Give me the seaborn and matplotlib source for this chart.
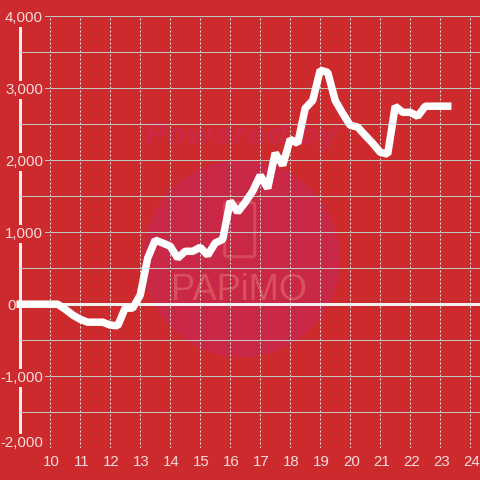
import matplotlib
matplotlib.use("Agg")
import matplotlib.pyplot as plt
from matplotlib.patches import Ellipse, FancyBboxPatch
from matplotlib.ticker import FixedLocator
from matplotlib.transforms import ScaledTranslation
import pandas as pd
import seaborn as sns

hours = [9.0, 9.25, 9.5, 9.75,
         10.0, 10.25, 10.5, 10.75, 11.0, 11.25, 11.5, 11.75,
         12.0, 12.25, 12.5, 12.75, 13.0, 13.25, 13.5, 13.75,
         14.0, 14.25, 14.5, 14.75, 15.0, 15.25, 15.5, 15.75,
         16.0, 16.25, 16.5, 16.75, 17.0, 17.25, 17.5, 17.75,
         18.0, 18.25, 18.5, 18.75, 19.0, 19.25, 19.5, 19.75,
         20.0, 20.25, 20.5, 20.75, 21.0, 21.25, 21.5, 21.75,
         22.0, 22.25, 22.5, 22.75, 23.0, 23.25]
values = [0, 0, 0, 0,
          0, 0, -70, -150, -210, -250, -250, -250,
          -290, -300, -55, -55, 125, 640, 890, 850,
          805, 640, 735, 735, 790, 680, 850, 900,
          1430, 1280, 1415, 1570, 1790, 1610, 2100, 1930,
          2290, 2235, 2720, 2830, 3250, 3220, 2830, 2650,
          2485, 2460, 2345, 2235, 2110, 2085, 2750, 2665,
          2665, 2610, 2750, 2750, 2750, 2750]
x_ticks = [10, 11, 12, 13, 14, 15, 16, 17, 18, 19, 20, 21, 22, 23, 24]
y_ticks = [-2000, -1000, 0, 1000, 2000, 3000, 4000]
y_minor = [-1500, -500, 500, 1500, 2500, 3500]
y_labels = ["-2,000", "-1,000", "0", "1,000", "2,000", "3,000", "4,000"]

BG = "#cc2a2d"
GRID = "#bfc9c2"
VGRID = "#dfe8e0"
TXT = "#f6dcdc"
WHITE = "#f0f0f0"
PX = 1 / 100
PT = 0.72

sns.set_theme(style="white")
plt.rcParams["font.family"] = ["Liberation Sans", "DejaVu Sans"]

fig = plt.figure(figsize=(4.8, 4.8), dpi=100, facecolor=BG)
ax = fig.add_axes([20.2 / 480, 31.8 / 480, (480 - 20.2) / 480, 432 / 480], facecolor=BG)

df = pd.DataFrame({"hour": hours, "value": values})
ax.axhline(0, color=WHITE, lw=3 * PT, zorder=2.9)
sns.lineplot(data=df, x="hour", y="value", ax=ax, color="white", lw=7.5 * PT,
             solid_capstyle="projecting", solid_joinstyle="bevel", zorder=3, clip_on=False)
ax.set_xlabel("")
ax.set_ylabel("")

ax.set_xlim(9.0, 9 + (480 - 20.2) / 30)
ax.set_ylim(-2000, 4000)


def px(x, y):
    return 10 + (x - 50.5) / 30, (304.5 - y) * 1000 / 72


# watermark
cx, cy = px(241.5, 259)
ax.add_patch(Ellipse((cx, cy), 197 / 30, 197 * 1000 / 72, fc="#c92846", ec="none", zorder=0.5))
ax.text(*px(242, 136), "Powered by", family="DejaVu Sans", weight="bold", style="oblique",
        fontsize=21, color="#cb2944", ha="center", va="center", zorder=0.6)
x0, y0 = px(225, 257)
x1, y1 = px(255, 203)
ax.add_patch(FancyBboxPatch((x0, y0), x1 - x0, y1 - y0,
                            boxstyle="round,pad=0,rounding_size=0.1", mutation_aspect=2400 / 6 * 0.55,
                            fc="none", ec="#d64a5c", lw=3 * PT, zorder=0.6))
ax.text(*px(239.5, 291), "PAPiMO", family="Liberation Sans",
        fontsize=26, color="#d9505f", ha="center", va="center", zorder=0.6)

# axes
for s in ["top", "right", "bottom"]:
    ax.spines[s].set_visible(False)
ax.spines["left"].set_color(WHITE)
ax.spines["left"].set_linewidth(3 * PT)
ax.set_axisbelow(False)

ax.xaxis.set_major_locator(FixedLocator(x_ticks))
ax.yaxis.set_major_locator(FixedLocator(y_ticks))
ax.yaxis.set_minor_locator(FixedLocator(y_minor))
ax.set_yticklabels(y_labels)
ax.grid(True, axis="y", which="both", color=GRID, lw=1 * PT, linestyle="-")
ax.grid(True, axis="x", which="major", color=VGRID, lw=1 * PT, linestyle=(0, (2, 2)))
ax.tick_params(axis="both", which="both", length=0)
ax.tick_params(axis="x", labelsize=10.8, labelcolor=TXT, pad=5.2)
ax.tick_params(axis="y", labelsize=10.8, labelcolor=TXT, pad=-16.5)

for lab in ax.get_xticklabels():
    lab.set_transform(lab.get_transform() + ScaledTranslation(1 * PX, 0, fig.dpi_scale_trans))

for lab, txt in zip(ax.get_yticklabels(), y_labels):
    lab.set_bbox(dict(facecolor=BG, edgecolor="none", pad=1.5))
    dx, dy = 0, 0.1
    if txt == "0":
        dx = -27
    if txt == "-2,000":
        dy = 6.4
    lab.set_transform(lab.get_transform() + ScaledTranslation(dx * PX, dy * PX, fig.dpi_scale_trans))

fig.savefig("out.png", dpi=100, facecolor=BG)
